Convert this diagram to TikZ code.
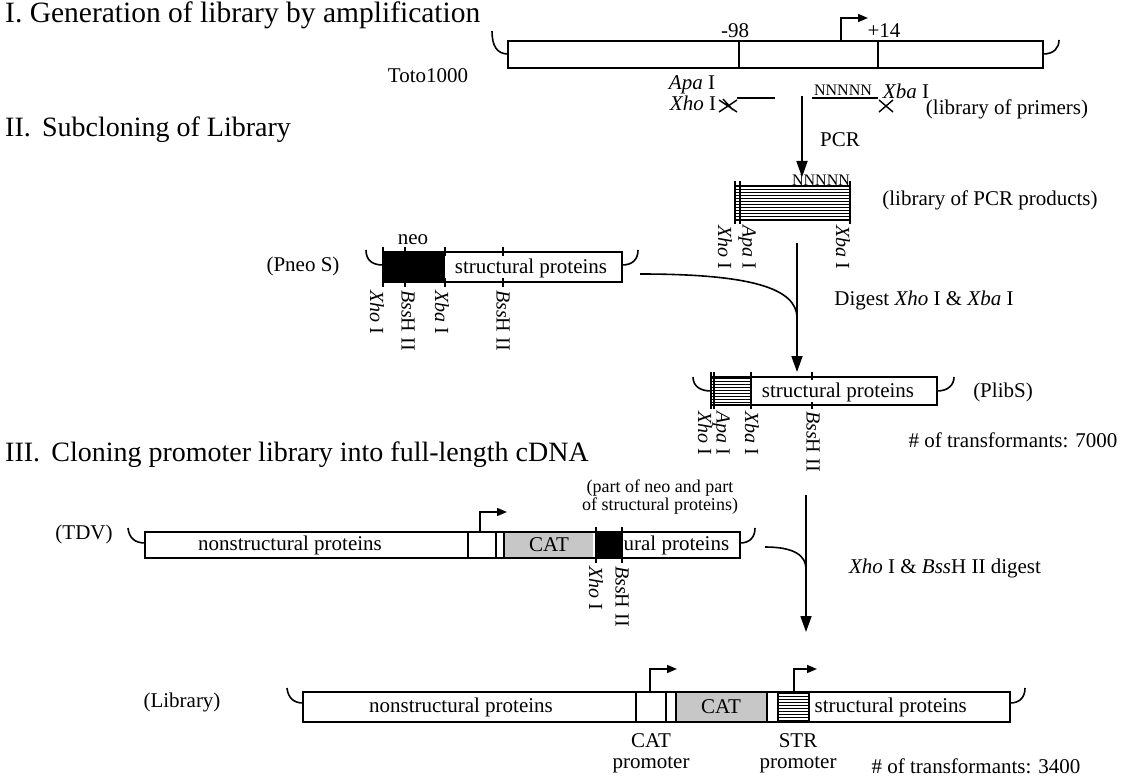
\documentclass[tikz,border=0pt]{standalone}
\usepackage{fontspec}
\setmainfont{Liberation Serif}
\usepackage{tikz}
\usetikzlibrary{arrows.meta}
\usetikzlibrary{patterns}
\usetikzlibrary{positioning}
\pgfdeclarelayer{edgelayer}
\pgfdeclarelayer{nodelayer}
\pgfsetlayers{edgelayer,nodelayer,main}
\tikzstyle{title}=[inner sep=0mm,anchor=base west,font=\fontsize{29.5}{32}\selectfont]
\tikzstyle{lbl}=[inner sep=0.5mm,font=\fontsize{21}{24}\selectfont]
\tikzstyle{stack}=[inner sep=0.5mm,align=center,font=\fontsize{21}{21}\selectfont]
\tikzstyle{note}=[inner sep=0.5mm,align=center,font=\fontsize{18}{15}\selectfont]
\tikzstyle{tiny}=[inner sep=0mm,font=\fontsize{16}{17}\selectfont]
\tikzstyle{site}=[inner sep=0mm,rotate=-90,anchor=west,font=\fontsize{20}{22}\selectfont]
\tikzstyle{seg}=[draw=black,line width=1.8pt]
\tikzstyle{cut}=[line width=1.4pt]
\tikzstyle{hook}=[line width=1.6pt]
\tikzstyle{flow}=[line width=1.8pt,-{Triangle[length=16pt,width=11pt]}]
\tikzstyle{prom}=[line width=1.6pt,-{Triangle[length=10pt,width=8pt]}]
\tikzstyle{hatch}=[pattern=horizontal lines]
\tikzstyle{cat}=[fill=black!22]

\begin{document}
\begin{tikzpicture}[x=1pt,y=-1pt]
	\useasboundingbox (0,0) rectangle (1122,778);
	\begin{pgfonlayer}{nodelayer}
		% section titles
		\node [style=title] (0) at (5,23) {I. Generation of library by amplification};
		\node [style=title,font=\fontsize{28}{32}\selectfont] (1) at (5,137) {II.\hspace{0.4em}Subcloning of Library};
		\node [style=title,font=\fontsize{28}{32}\selectfont] (2) at (5,461) {III.\hspace{0.4em}Cloning promoter library into full-length cDNA};
		% I. amplification
		\node [style=lbl] (3) at (428,76) {Toto1000};
		\node [style=lbl] (4) at (735,31) {-98};
		\node [style=lbl] (5) at (884,31) {+14};
		\node [style=lbl] (6) at (692,85) {\textit{Apa} I};
		\node [style=lbl] (7) at (693,103) {\textit{Xho} I};
		\node [style=tiny] (8) at (843,90) {NNNNN};
		\node [style=lbl] (9) at (906,91) {\textit{Xba} I};
		\node [style=lbl] (10) at (1007,109) {(library of primers)};
		\node [style=lbl] (11) at (840,140) {PCR};
		% II. subcloning
		\node [style=tiny] (12) at (821,180) {NNNNN};
		\node [style=site] (13) at (725,225) {\textit{Xho} I};
		\node [style=site] (14) at (747,225) {\textit{Apa} I};
		\node [style=site] (15) at (843,225) {\textit{Xba} I};
		\node [style=lbl] (16) at (990,200) {(library of PCR products)};
		\node [style=lbl] (17) at (303,266) {(Pneo S)};
		\node [style=lbl] (18) at (413,240) {neo};
		\node [style=lbl] (19) at (531,268) {structural proteins};
		\node [style=site] (20) at (377,290) {\textit{Xho} I};
		\node [style=site] (21) at (408,290) {\textit{Bss}H II};
		\node [style=site] (22) at (442,290) {\textit{Xba} I};
		\node [style=site] (23) at (503,290) {\textit{Bss}H II};
		\node [style=lbl] (24) at (924,300) {Digest \textit{Xho} I \& \textit{Xba} I};
		\node [style=lbl] (25) at (838,392) {structural proteins};
		\node [style=lbl] (26) at (1003,392) {(PlibS)};
		\node [style=site] (27) at (705,411) {\textit{Xho} I};
		\node [style=site] (28) at (721,411) {\textit{Apa} I};
		\node [style=site] (29) at (752,411) {\textit{Xba} I};
		\node [style=site] (30) at (813,411) {\textit{Bss}H II};
		\node [style=lbl] (31) at (1013,440) {\# of transformants: 7000};
		% III. cloning
		\node [style=lbl] (32) at (84,534) {(TDV)};
		\node [style=lbl] (33) at (290,545) {nonstructural proteins};
		\node [style=lbl] (34) at (549,545) {CAT};
		\node [style=lbl,anchor=west] (35) at (622,545) {ural proteins};
		\node [style=note] (36) at (660,497) {(part of neo and part\\of structural proteins)};
		\node [style=site] (37) at (596,566) {\textit{Xho} I};
		\node [style=site] (38) at (622,566) {\textit{Bss}H II};
		\node [style=lbl] (39) at (945,568) {\textit{Xho} I \& \textit{Bss}H II digest};
		\node [style=lbl] (40) at (182,702) {(Library)};
		\node [style=lbl] (41) at (461,707) {nonstructural proteins};
		\node [style=lbl] (42) at (721,707) {CAT};
		\node [style=lbl,anchor=west] (43) at (813,707) {structural proteins};
		\node [style=stack] (44) at (651,753) {CAT\\promoter};
		\node [style=stack] (45) at (798,753) {STR\\promoter};
		\node [style=lbl] (46) at (976,766) {\# of transformants: 3400};
	\end{pgfonlayer}
	\begin{pgfonlayer}{edgelayer}
		\fill[white] (0,0) rectangle (1122,778);
		% Toto1000
		\draw[seg] (508,41) rectangle (1043,68);
		\draw[cut] (739,41) -- (739,68) (878,41) -- (878,68);
		\draw[hook] (492,31) .. controls (492,46) and (497,54) .. (508,54);
		\draw[hook] (1043,54) .. controls (1054,54) and (1059,48) .. (1059,40);
		\coordinate (50) at (841,41);
		\coordinate (51) at (868,18);
		\draw[prom] (50) |- (51);
		% primers
		\draw[cut] (737,98) -- (775,98);
		\draw[cut] (719,100) -- (737,112) (719,112) -- (737,100) (723,99) -- (733,110);
		\draw[cut] (812,98) -- (878,98);
		\draw[cut] (879,100) -- (893,112) (879,112) -- (893,100);
		\coordinate (52) at (802,96);
		\coordinate (53) at (802,177);
		\draw[flow] (52) -- (53);
		% PCR products
		\path[hatch] (735,186) rectangle (850,220);
		\draw[seg,line width=1.4pt] (735,186) rectangle (850,220);
		\draw[cut] (735,181) -- (735,224) (740,181) -- (740,224) (850,181) -- (850,224);
		% Pneo S
		\fill (383,252) rectangle (445,282);
		\draw[seg,line width=1.5pt] (383,252) rectangle (622,282);
		\foreach \x in {383,405,445,503} {
			\draw[cut] (\x,247) -- (\x,256);
			\draw[cut] (\x,278) -- (\x,287);
		}
		\draw[hook] (366,250) .. controls (366,260) and (372,265) .. (383,265);
		\draw[hook] (622,265) .. controls (633,265) and (638,259) .. (638,250);
		\coordinate (54) at (797,243);
		\coordinate (55) at (797,372);
		\coordinate (56) at (640,274);
		\coordinate (57) at (797,318);
		\draw[flow] (54) -- (55);
		\draw[hook] (56) .. controls (750,274) and (797,288) .. (57);
		% PlibS
		\path[hatch] (711,377) rectangle (751,405);
		\draw[seg,line width=1.5pt] (711,377) rectangle (937,405);
		\draw[cut] (714,372) -- (714,409) (711,372) -- (711,409) (751,372) -- (751,409);
		\draw[cut] (812,372) -- (812,380) (812,402) -- (812,409);
		\draw[hook] (693,377) .. controls (693,386) and (700,391) .. (711,391);
		\draw[hook] (937,391) .. controls (948,391) and (954,385) .. (954,377);
		% TDV
		\fill[cat] (504,532) rectangle (593,558);
		\fill (596,532) rectangle (622,558);
		\draw[cut] (468,532) -- (468,558) (496,532) -- (496,558) (504,532) -- (504,558);
		\draw[cut] (596,527) -- (596,563) (622,527) -- (622,563);
		\draw[seg,line width=2pt] (145,532) rectangle (740,558);
		\draw[hook] (128,528) .. controls (129,538) and (135,543) .. (145,543);
		\draw[hook] (740,543) .. controls (750,543) and (755,537) .. (755,528);
		\coordinate (58) at (480,532);
		\coordinate (59) at (507,512);
		\draw[prom] (58) |- (59);
		\coordinate (60) at (806,495);
		\coordinate (61) at (806,632);
		\coordinate (62) at (765,547);
		\coordinate (63) at (806,569);
		\draw[flow] (60) -- (61);
		\draw[hook] (62) .. controls (795,547) and (806,556) .. (63);
		% Library
		\fill[cat] (676,692) rectangle (767,722);
		\path[hatch] (778,692) rectangle (809,722);
		\foreach \x in {636,666,676,767,778,809} {
			\draw[cut] (\x,692) -- (\x,722);
		}
		\draw[seg,line width=2pt] (303,692) rectangle (1010,722);
		\draw[hook] (287,688) .. controls (288,698) and (294,703) .. (303,703);
		\draw[hook] (1010,703) .. controls (1020,703) and (1025,697) .. (1025,688);
		\coordinate (64) at (650,692);
		\coordinate (65) at (677,669);
		\coordinate (66) at (794,692);
		\coordinate (67) at (817,669);
		\draw[prom] (64) |- (65);
		\draw[prom] (66) |- (67);
	\end{pgfonlayer}
\end{tikzpicture}
\end{document}
